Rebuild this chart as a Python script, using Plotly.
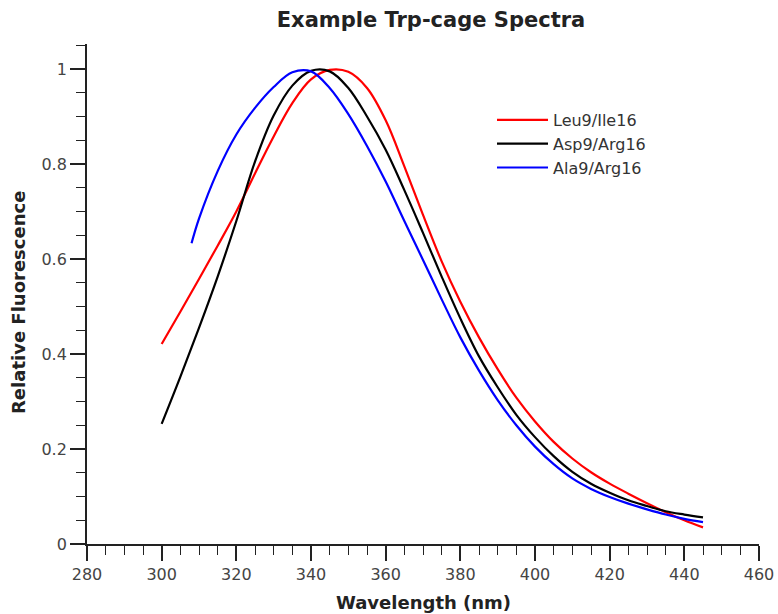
import plotly.graph_objects as go

# Wavelengths (nm)
wl_full = [300, 305, 310, 315, 320, 325, 330, 335, 340, 345, 350, 355, 360, 365, 370,
           375, 380, 385, 390, 395, 400, 405, 410, 415, 420, 425, 430, 435, 440, 445]
wl_ala = [308, 310, 315, 320, 325, 330, 335, 340, 345, 350, 355, 360, 365, 370,
          375, 380, 385, 390, 395, 400, 405, 410, 415, 420, 425, 430, 435, 440, 445]

leu9_ile16 = [0.421, 0.489, 0.558, 0.628, 0.700, 0.780, 0.858, 0.928, 0.978, 0.998,
              0.994, 0.960, 0.892, 0.795, 0.693, 0.595, 0.510, 0.435, 0.368, 0.308,
              0.258, 0.215, 0.180, 0.151, 0.127, 0.106, 0.086, 0.067, 0.050, 0.035]
asp9_arg16 = [0.253, 0.352, 0.455, 0.563, 0.680, 0.805, 0.902, 0.965, 0.996, 0.995,
              0.960, 0.900, 0.830, 0.745, 0.655, 0.563, 0.475, 0.395, 0.330, 0.272,
              0.225, 0.185, 0.152, 0.127, 0.108, 0.092, 0.080, 0.069, 0.062, 0.056]
ala9_arg16 = [0.633, 0.685, 0.785, 0.862, 0.918, 0.962, 0.993, 0.995, 0.960, 0.905,
              0.838, 0.763, 0.680, 0.598, 0.515, 0.435, 0.365, 0.303, 0.250, 0.205,
              0.168, 0.138, 0.116, 0.099, 0.085, 0.073, 0.062, 0.053, 0.046]

names = ["Leu9/Ile16", "Asp9/Arg16", "Ala9/Arg16"]
colors = ["#ff0000", "#000000", "#0000ff"]

fig = go.Figure()
for name, xs, ys, c in zip(names, [wl_full, wl_full, wl_ala],
                           [leu9_ile16, asp9_arg16, ala9_arg16], colors):
    fig.add_trace(go.Scatter(x=xs, y=ys, name=name, mode="lines",
                             line=dict(color=c, width=2.2, shape="spline", smoothing=1.0)))

font = "DejaVu Sans"
axis_common = dict(
    showgrid=False, zeroline=False, showline=True, linecolor="#222", linewidth=1.8,
    ticks="outside", ticklen=15, tickwidth=1.6, tickcolor="#222", automargin=False,
    tickfont=dict(family=font, size=16, color="#444"), mirror=False,
)
fig.update_layout(
    width=778, height=614,
    margin=dict(l=87, r=19, t=44, b=70),
    paper_bgcolor="white", plot_bgcolor="white",
    title=dict(text="<b>Example Trp-cage Spectra</b>", x=431/778, xanchor="center",
               y=1-20/614, yanchor="middle", yref="container",
               font=dict(family=font, size=21, color="#222")),
    xaxis=dict(range=[280, 460], dtick=20, tick0=280,
               minor=dict(dtick=5, ticklen=9, tickwidth=1.4, tickcolor="#222", ticks="outside"),
               **axis_common),
    yaxis=dict(range=[0, 1.0526], dtick=0.2, tick0=0,
               minor=dict(dtick=0.05, ticklen=9, tickwidth=1.4, tickcolor="#222", ticks="outside"),
               **axis_common),
    legend=dict(x=(492-87)/672, y=0.882, xanchor="left", yanchor="top",
                font=dict(family=font, size=16, color="#333"), itemwidth=51,
                bgcolor="rgba(0,0,0,0)", tracegroupgap=0),
    showlegend=True,
)
fig.add_annotation(text="<b>Wavelength (nm)</b>", xref="paper", yref="paper",
                   x=0.5, y=-(602-544)/500, xanchor="center", yanchor="middle",
                   showarrow=False, font=dict(family=font, size=18, color="#222"))
fig.add_annotation(text="<b>Relative Fluorescence</b>", xref="paper", yref="paper",
                   x=-(87-18)/672, y=(544-303)/500, xanchor="center", yanchor="middle",
                   textangle=-90, showarrow=False,
                   font=dict(family=font, size=18, color="#222"))

fig.write_html("out.html")
